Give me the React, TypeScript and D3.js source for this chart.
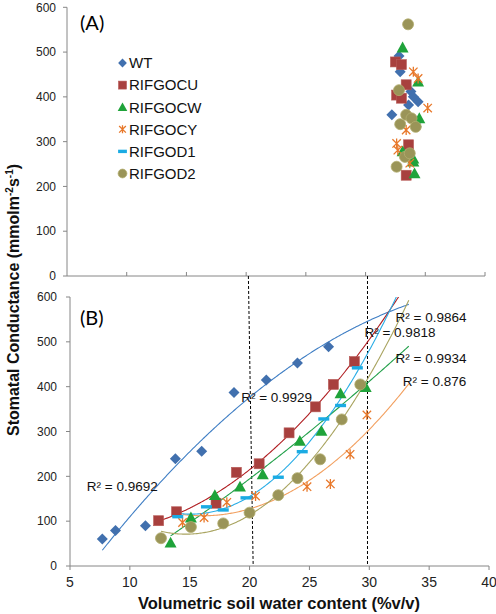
import React from "react";
import * as d3 from "d3";

// ---------- data ----------
const X_TICKS = [5, 10, 15, 20, 25, 30, 35, 40];
const Y_TICKS = [0, 100, 200, 300, 400, 500, 600];

const SERIES_NAMES = ["WT", "RIFGOCU", "RIFGOCW", "RIFGOCY", "RIFGOD1", "RIFGOD2"];
const SERIES_SHAPES = ["diamond", "square", "triangle", "star", "dash", "circle"];
const MARKER_COLORS = ["#4170AE", "#A8403E", "#1FA33A", "#E8782A", "#1BABE3", "#9A9458"];
const MARKER_STROKES = ["#4170AE", "#B85A57", "#1FA33A", "#E8782A", "#1BABE3", "#B3AD6E"];
const LINE_COLORS = ["#3F7EC4", "#B01E22", "#22A04A", "#F2A060", "#2AADE6", "#A9A460"];
const FORECAST_END = 33.3;

// Panel A (well-watered cluster)
const A_WT = [[32.8, 491], [32.9, 456], [33.8, 412], [34.0, 400], [34.4, 389], [33.6, 382], [32.2, 360], [34.3, 345]];
const A_CU = [[32.5, 478], [33.0, 472], [33.4, 427], [32.6, 404], [33.0, 397], [33.6, 293], [33.4, 225]];
const A_CW = [[33.1, 510], [34.4, 434], [34.5, 352], [34.2, 343], [33.1, 278], [34.0, 262], [34.0, 255], [34.1, 229]];
const A_CY = [[34.0, 456], [34.4, 441], [35.2, 375], [33.4, 326], [32.6, 296], [32.7, 281], [33.7, 252]];
const A_D1: number[][] = [];
const A_D2 = [[33.56, 562], [32.8, 415], [33.4, 360], [33.85, 352], [32.9, 339], [34.2, 333], [33.3, 266], [33.7, 274], [32.6, 244]];

// Panel B (drying)
const B_WT = [[7.7, 60], [8.8, 79], [11.3, 90], [13.8, 239], [16.0, 256], [18.7, 387], [21.4, 415], [24.0, 453], [26.6, 489]];
const B_CU = [[12.4, 101], [13.9, 121], [17.2, 140], [18.9, 209], [20.8, 228], [23.3, 297], [25.5, 355], [27.0, 405], [28.75, 456]];
const B_CW = [[13.4, 52], [15.1, 108], [17.1, 158], [19.2, 177], [21.1, 204], [24.2, 279], [26.0, 301], [27.6, 385], [29.7, 399]];
const B_CY = [[14.4, 97], [16.2, 108], [18.1, 142], [20.5, 156], [24.8, 177], [26.75, 183], [28.4, 249], [29.8, 337]];
const B_D1 = [[14.0, 110], [16.4, 132], [17.8, 125], [19.7, 152], [22.4, 198], [24.4, 255], [26.2, 328], [27.6, 358], [29.0, 442]];
const B_D2 = [[12.6, 62], [15.1, 87], [17.8, 95], [20.0, 119], [22.4, 158], [24.0, 196], [25.9, 238], [27.7, 327], [29.25, 405]];

const A_DATA = [A_WT, A_CU, A_CW, A_CY, A_D1, A_D2];
const B_DATA = [B_WT, B_CU, B_CW, B_CY, B_D1, B_D2];

const R2_TEXTS = ["R² = 0.9692", "R² = 0.9929", "R² = 0.9864", "R² = 0.9818", "R² = 0.9934", "R² = 0.876"];
const R2_ANCHORS = [[6.4, 168], [19.3, 365], [32.2, 545], [29.6, 510], [32.2, 452], [32.8, 402]];

// vertical dashed guide lines: [x at top (panel A baseline), x at bottom (panel B baseline)]
const GUIDES = [[19.9, 20.3], [29.85, 29.85]];

// ---------- layout ----------
const W = 496, H = 614;
const xA = d3.scaleLinear().domain([5, 40]).range([67, 485]);
const yA = d3.scaleLinear().domain([0, 600]).range([276, 7.3]);
const xB = d3.scaleLinear().domain([5, 40]).range([70, 489]);
const yB = d3.scaleLinear().domain([0, 600]).range([566, 297]);

const AXIS = "#868686";
const FONT = "'Liberation Sans', Arial, sans-serif";

// Excel-style 2nd order polynomial trendline (least squares)
function fitPoly2(pts: number[][]) {
  let s0 = 0, s1 = 0, s2 = 0, s3 = 0, s4 = 0, t0 = 0, t1 = 0, t2 = 0;
  for (const [x, y] of pts) {
    s0 += 1; s1 += x; s2 += x * x; s3 += x * x * x; s4 += x * x * x * x;
    t0 += y; t1 += x * y; t2 += x * x * y;
  }
  const M = [[s0, s1, s2, t0], [s1, s2, s3, t1], [s2, s3, s4, t2]];
  for (let i = 0; i < 3; i++) {
    let p = i;
    for (let r = i + 1; r < 3; r++) if (Math.abs(M[r][i]) > Math.abs(M[p][i])) p = r;
    [M[i], M[p]] = [M[p], M[i]];
    for (let r = 0; r < 3; r++) {
      if (r === i) continue;
      const f = M[r][i] / M[i][i];
      for (let c = i; c < 4; c++) M[r][c] -= f * M[i][c];
    }
  }
  const a = M[0][3] / M[0][0], b = M[1][3] / M[1][1], c = M[2][3] / M[2][2];
  return (x: number) => a + b * x + c * x * x;
}

function Marker({ shape, x, y, i, s = 1 }: { shape: string; x: number; y: number; i: number; s?: number }) {
  const fill = MARKER_COLORS[i];
  const stroke = MARKER_STROKES[i];
  if (shape === "diamond") {
    const r = 5.5 * s;
    return <path d={`M${x},${y - r}L${x + r},${y}L${x},${y + r}L${x - r},${y}Z`} fill={fill} />;
  }
  if (shape === "square") {
    const r = 5 * s;
    return <rect x={x - r} y={y - r} width={2 * r} height={2 * r} fill={fill} stroke={stroke} strokeWidth={0.6} />;
  }
  if (shape === "triangle") {
    const r = 6 * s;
    return <path d={`M${x},${y - r}L${x + r},${y + r * 0.8}L${x - r},${y + r * 0.8}Z`} fill={fill} />;
  }
  if (shape === "star") {
    const r = 4.2 * s;
    return (
      <path
        d={`M${x - r},${y - r}L${x + r},${y + r}M${x - r},${y + r}L${x + r},${y - r}M${x},${y - r * 1.2}L${x},${y + r * 1.2}`}
        stroke={fill}
        strokeWidth={1.3}
        fill="none"
      />
    );
  }
  if (shape === "dash") {
    const w = 5.5 * s;
    return <rect x={x - w} y={y - 1.7} width={2 * w} height={3.4} fill={fill} />;
  }
  const r = 5.5 * s;
  return <circle cx={x} cy={y} r={r} fill={fill} stroke={stroke} strokeWidth={0.8} />;
}

export default function App() {
  const line = d3.line<number[]>().x((d) => xB(d[0])).y((d) => yB(d[1]));
  const trendPaths = B_DATA.map((pts) => {
    const f = fitPoly2(pts);
    const x0 = d3.min(pts, (p) => p[0])!;
    const xs = d3.range(x0, FORECAST_END, 0.1).concat([FORECAST_END]);
    return line(xs.map((x) => [x, f(x)]))!;
  });

  return (
    <svg width={W} height={H} style={{ display: "block", position: "absolute", left: 0, top: 0 }} fontFamily={FONT}>
      <rect width={W} height={H} fill="#fff" />
      <defs>
        <clipPath id="clipB">
          <rect x={xB(5)} y={yB(600)} width={xB(40) - xB(5)} height={yB(0) - yB(600)} />
        </clipPath>
      </defs>

      {/* Panel A axes */}
      <line x1={xA(5)} x2={xA(5)} y1={yA(600)} y2={yA(0)} stroke={AXIS} />
      <line x1={xA(5)} x2={xA(40)} y1={yA(0)} y2={yA(0)} stroke={AXIS} />
      {Y_TICKS.map((t) => (
        <g key={"ya" + t}>
          <line x1={xA(5) - 4} x2={xA(5)} y1={yA(t)} y2={yA(t)} stroke={AXIS} />
          <text x={56} y={yA(t)} dy="0.35em" textAnchor="end" fontSize={12} fill="#222">{t}</text>
        </g>
      ))}
      {X_TICKS.slice(1).map((t) => (
        <line key={"xa" + t} x1={xA(t)} x2={xA(t)} y1={yA(0) - 4} y2={yA(0)} stroke={AXIS} />
      ))}

      {/* Panel B axes */}
      <line x1={xB(5)} x2={xB(5)} y1={yB(600)} y2={yB(0)} stroke={AXIS} />
      <line x1={xB(5)} x2={xB(40)} y1={yB(0)} y2={yB(0)} stroke={AXIS} />
      {Y_TICKS.map((t) => (
        <g key={"yb" + t}>
          <line x1={xB(5) - 4} x2={xB(5)} y1={yB(t)} y2={yB(t)} stroke={AXIS} />
          <text x={57} y={yB(t)} dy="0.35em" textAnchor="end" fontSize={12} fill="#222">{t}</text>
        </g>
      ))}
      {X_TICKS.map((t) => (
        <g key={"xb" + t}>
          <line x1={xB(t)} x2={xB(t)} y1={yB(0)} y2={yB(0) + 4} stroke={AXIS} />
          <text x={xB(t)} y={587} textAnchor="middle" fontSize={14} fill="#222">{t}</text>
        </g>
      ))}

      {/* guide lines */}
      {GUIDES.map((g, i) => (
        <line key={"g" + i} x1={xB(g[0])} y1={yA(0)} x2={xB(g[1])} y2={yB(0)} stroke="#000" strokeDasharray="3,2" strokeWidth={1} />
      ))}

      {/* Panel labels */}
      <text x={80} y={30} fontSize={20} fontFamily="Lato, 'Liberation Sans', sans-serif">(A)</text>
      <text x={80} y={325} fontSize={20} fontFamily="Lato, 'Liberation Sans', sans-serif">(B)</text>

      {/* Legend */}
      {SERIES_NAMES.map((n, i) => {
        const cy = 63 + i * 22.1;
        return (
          <g key={"lg" + n}>
            <Marker shape={SERIES_SHAPES[i]} x={122.5} y={cy} i={i} s={0.8} />
            <text x={129} y={cy + 5.3} fontSize={15} fill="#111">{n}</text>
          </g>
        );
      })}

      {/* Panel A markers */}
      {A_DATA.map((pts, i) =>
        pts.map((p, j) => <Marker key={`a${i}-${j}`} shape={SERIES_SHAPES[i]} x={xA(p[0])} y={yA(p[1])} i={i} />)
      )}

      {/* Panel B trendlines */}
      <g clipPath="url(#clipB)">
        {trendPaths.map((d, i) => (
          <path key={"t" + i} d={d} fill="none" stroke={LINE_COLORS[i]} strokeWidth={1.1} />
        ))}
      </g>

      {/* Panel B markers */}
      {B_DATA.map((pts, i) =>
        pts.map((p, j) => <Marker key={`b${i}-${j}`} shape={SERIES_SHAPES[i]} x={xB(p[0])} y={yB(p[1])} i={i} />)
      )}

      {/* R² labels */}
      {R2_TEXTS.map((t, i) => (
        <text key={"r" + i} x={xB(R2_ANCHORS[i][0])} y={yB(R2_ANCHORS[i][1])} fontSize={13.5} fill="#111">{t}</text>
      ))}

      {/* Axis titles */}
      <text x={279} y={609} textAnchor="middle" fontSize={16.5} fontWeight="bold" fill="#111">
        Volumetric soil water content (%v/v)
      </text>
      <text transform="translate(19,300) rotate(-90)" textAnchor="middle" fontSize={16} fontWeight="bold" fill="#111">
        Stomatal Conductance (mmolm<tspan dy={-6} fontSize={10}>-2</tspan><tspan dy={6}>s</tspan><tspan dy={-6} fontSize={10}>-1</tspan><tspan dy={6}>)</tspan>
      </text>
    </svg>
  );
}
